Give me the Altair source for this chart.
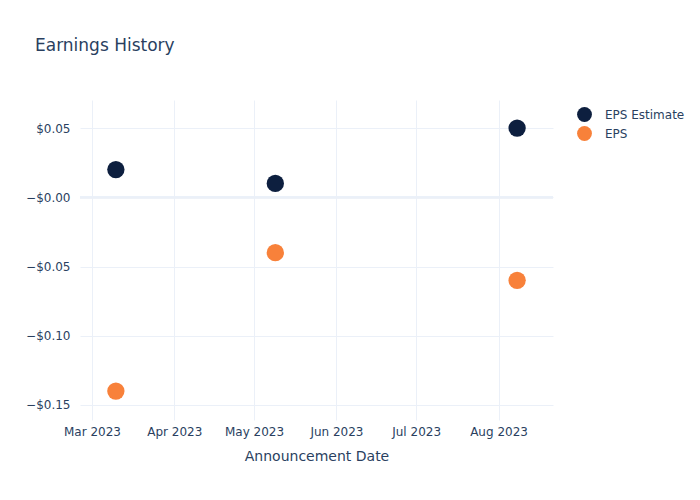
import altair as alt
import pandas as pd

dates = ["2023-03-10", "2023-05-09", "2023-08-08"]
eps_estimate = [0.02, 0.01, 0.05]
eps_actual = [-0.14, -0.04, -0.06]
series_names = ["EPS Estimate", "EPS"]
series_colors = ["#0d1f3f", "#f8813a"]
y_ticks = [-0.15, -0.10, -0.05, 0.0, 0.05]

rows = []
for d, e in zip(dates, eps_estimate):
    rows.append({"date": d, "value": e, "series": "EPS Estimate"})
for d, a in zip(dates, eps_actual):
    rows.append({"date": d, "value": a, "series": "EPS"})
df = pd.DataFrame(rows)

text_color = "#2a3f5f"
grid_color = "#ebf0f8"

x_enc = alt.X(
    "date:T",
    scale=alt.Scale(
        type="utc",
        domain=[alt.DateTime(year=2023, month=2, date=24, hours=12, utc=True),
                alt.DateTime(year=2023, month=8, date=21, hours=12, utc=True)],
    ),
    axis=alt.Axis(
        title="Announcement Date",
        labelExpr="utcFormat(datum.value, '%b %Y')",
        tickCount={"interval": "month", "step": 1},
        grid=True,
        gridColor=grid_color,
        domain=False,
        ticks=False,
        labelPadding=6,
        labelFontSize=12,
        labelColor=text_color,
        titleFontSize=14,
        titleFontWeight="normal",
        titleColor=text_color,
        titlePadding=12,
    ),
)

y_enc = alt.Y(
    "value:Q",
    scale=alt.Scale(domain=[-0.1609, 0.0703], nice=False, zero=False),
    axis=alt.Axis(
        title=None,
        values=y_ticks,
        labelExpr="datum.value == 0 ? '\u2212$0.00' : format(datum.value, '$.2f')",
        grid=True,
        gridColor=grid_color,
        domain=False,
        ticks=False,
        labelPadding=10,
        labelFontSize=12,
        labelColor=text_color,
    ),
)

zero = alt.Chart(df).mark_rule(color=grid_color, strokeWidth=2).encode(y=alt.datum(0))

points = alt.Chart(df).mark_point(filled=True, opacity=1, size=300).encode(
    x=x_enc,
    y=y_enc,
    color=alt.Color(
        "series:N",
        scale=alt.Scale(domain=series_names, range=series_colors),
        legend=alt.Legend(
            title=None,
            orient="none",
            legendX=496,
            legendY=6,
            symbolType="circle",
            symbolSize=220,
            symbolOpacity=1,
            labelFontSize=12,
            labelColor=text_color,
            labelOffset=12,
            rowPadding=3,
        ),
    ),
)

chart = (
    alt.layer(zero, points)
    .properties(
        width=473,
        height=320,
        view=alt.ViewBackground(stroke="transparent", strokeOpacity=0, strokeWidth=0),
        title=alt.TitleParams(
            "Earnings History",
            anchor="start",
            frame="group",
            dx=-45,
            dy=-41,
            fontSize=17,
            fontWeight="normal",
            color=text_color,
        ),
        autosize=alt.AutoSizeParams(type="none"),
        padding={"left": 80, "top": 100, "right": 147, "bottom": 80},
    )
    .configure_view(stroke="transparent", strokeOpacity=0, strokeWidth=0)
    .configure(font="DejaVu Sans")
)

chart.save("out.html", embed_options={"renderer": "svg", "actions": False})
